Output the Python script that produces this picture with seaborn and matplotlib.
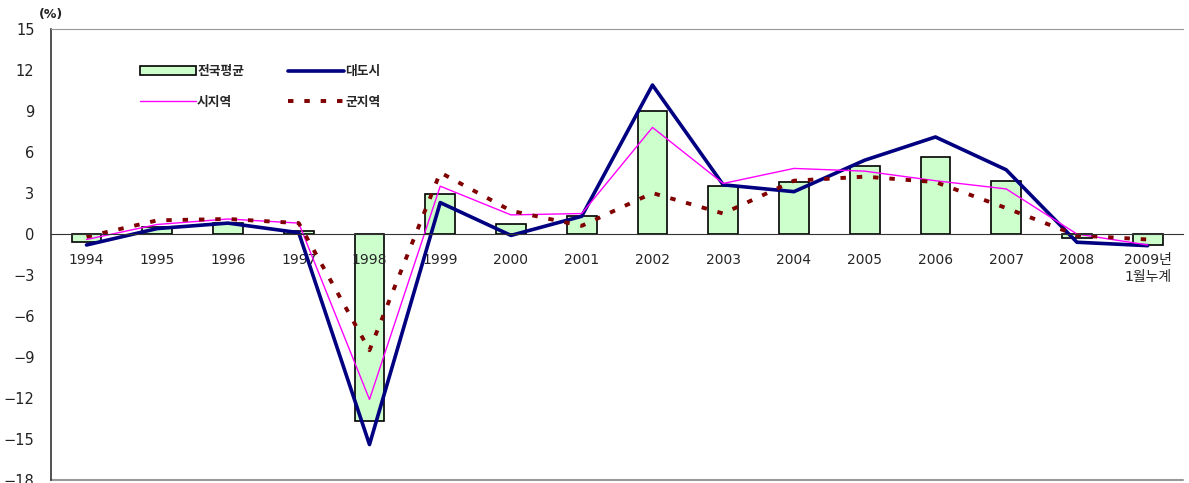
import numpy as np
import pandas as pd
import seaborn as sns
import matplotlib.pyplot as plt
from matplotlib.patches import Patch
from matplotlib.lines import Line2D

# values (%)
years = ["1994", "1995", "1996", "1997", "1998", "1999", "2000", "2001",
         "2002", "2003", "2004", "2005", "2006", "2007", "2008", "2009년\n1월누계"]
national_avg = [-0.6, 0.5, 0.8, 0.2, -13.7, 2.9, 0.7, 1.3,
                9.0, 3.5, 3.8, 5.0, 5.6, 3.9, -0.3, -0.8]
metro = [-0.8, 0.4, 0.8, 0.1, -15.4, 2.3, -0.1, 1.3,
         10.9, 3.6, 3.1, 5.4, 7.1, 4.7, -0.6, -0.85]
city = [-0.4, 0.7, 1.1, 0.8, -12.1, 3.5, 1.4, 1.5,
        7.8, 3.7, 4.8, 4.6, 3.9, 3.3, 0.0, -0.8]
county = [-0.2, 1.0, 1.1, 0.8, -8.5, 4.5, 1.7, 0.6,
          3.0, 1.5, 3.9, 4.2, 3.8, 1.9, -0.1, -0.4]

sns.set_style("white")
plt.rcParams['font.family'] = ['DejaVu Sans', 'Noto Sans CJK KR']
plt.rcParams['axes.unicode_minus'] = True

df = pd.DataFrame({"pos": np.arange(len(years)), "year": years,
                   "avg": national_avg, "metro": metro, "city": city, "county": county})

fig = plt.figure(figsize=(11.89, 4.83), dpi=100)
ax = fig.add_axes([0.043, 0.006, 0.952, 0.934])

sns.barplot(data=df, x="pos", y="avg", native_scale=True, width=0.42,
            color="#CCFFCC", edgecolor="black", linewidth=1.2, saturation=1, ax=ax)
sns.lineplot(data=df, x="pos", y="metro", color="#000080", lw=2.6, ax=ax)
sns.lineplot(data=df, x="pos", y="city", color="#FF00FF", lw=1.0, ax=ax)
sns.lineplot(data=df, x="pos", y="county", color="#800000", lw=2.8,
             linestyle=(0, (1.4, 2.8)), ax=ax)

ax.set_axisbelow("line")  # tick labels above the bars, below the lines

ax.set_xlim(-0.5, 15.5)
ax.set_ylim(-18, 15)
ax.set_yticks(np.arange(-18, 16, 3))
ax.set_yticklabels([str(v).replace("-", "\u2212") for v in range(-18, 16, 3)],
                   fontsize=10.5, color="#222222")
ax.set_xticks(np.arange(len(years)))
ax.set_xticklabels(years, fontsize=10, fontweight="bold", color="#222222",
                   va="top", linespacing=1.7)
ax.set_xticks(np.arange(len(years) - 1) + 0.5, minor=True)
ax.tick_params(axis="x", which="major", length=0, pad=14)
ax.tick_params(axis="x", which="minor", length=4, direction="in", color="#333333")
ax.tick_params(axis="y", length=4, direction="out", color="#333333", pad=8)
ax.set_xlabel("")
ax.set_ylabel("")

# zero line with category ticks, frame around the plot area
ax.spines["bottom"].set_position(("data", 0))
ax.spines["bottom"].set_color("#333333")
ax.spines["left"].set_color("#333333")
ax.spines["left"].set_linewidth(1.2)
ax.spines["top"].set_color("#999999")
ax.spines["right"].set_visible(False)
ax.axhline(-18, color="#999999", lw=1.5, clip_on=False)

ax.text(-0.0105, 1.031, "(%)", transform=ax.transAxes, fontsize=9,
        fontweight="bold", ha="left", va="center", color="#222222")

handles = [Patch(facecolor="#CCFFCC", edgecolor="black", linewidth=1.2),
           Line2D([], [], color="#FF00FF", lw=1.0),
           Line2D([], [], color="#000080", lw=2.6),
           Line2D([], [], color="#800000", lw=2.8, linestyle=(0, (1.4, 2.8)))]
labels = ["전국평균", "시지역", "대도시", "군지역"]
ax.legend(handles, labels, ncol=2, loc="upper left", bbox_to_anchor=(0.068, 0.945),
          frameon=False, prop={"size": 9.2, "weight": "bold"}, handlelength=4.4,
          handleheight=0.7, handletextpad=0.1, columnspacing=3.4, labelspacing=1.35)

plt.savefig("out.png", dpi=100)
